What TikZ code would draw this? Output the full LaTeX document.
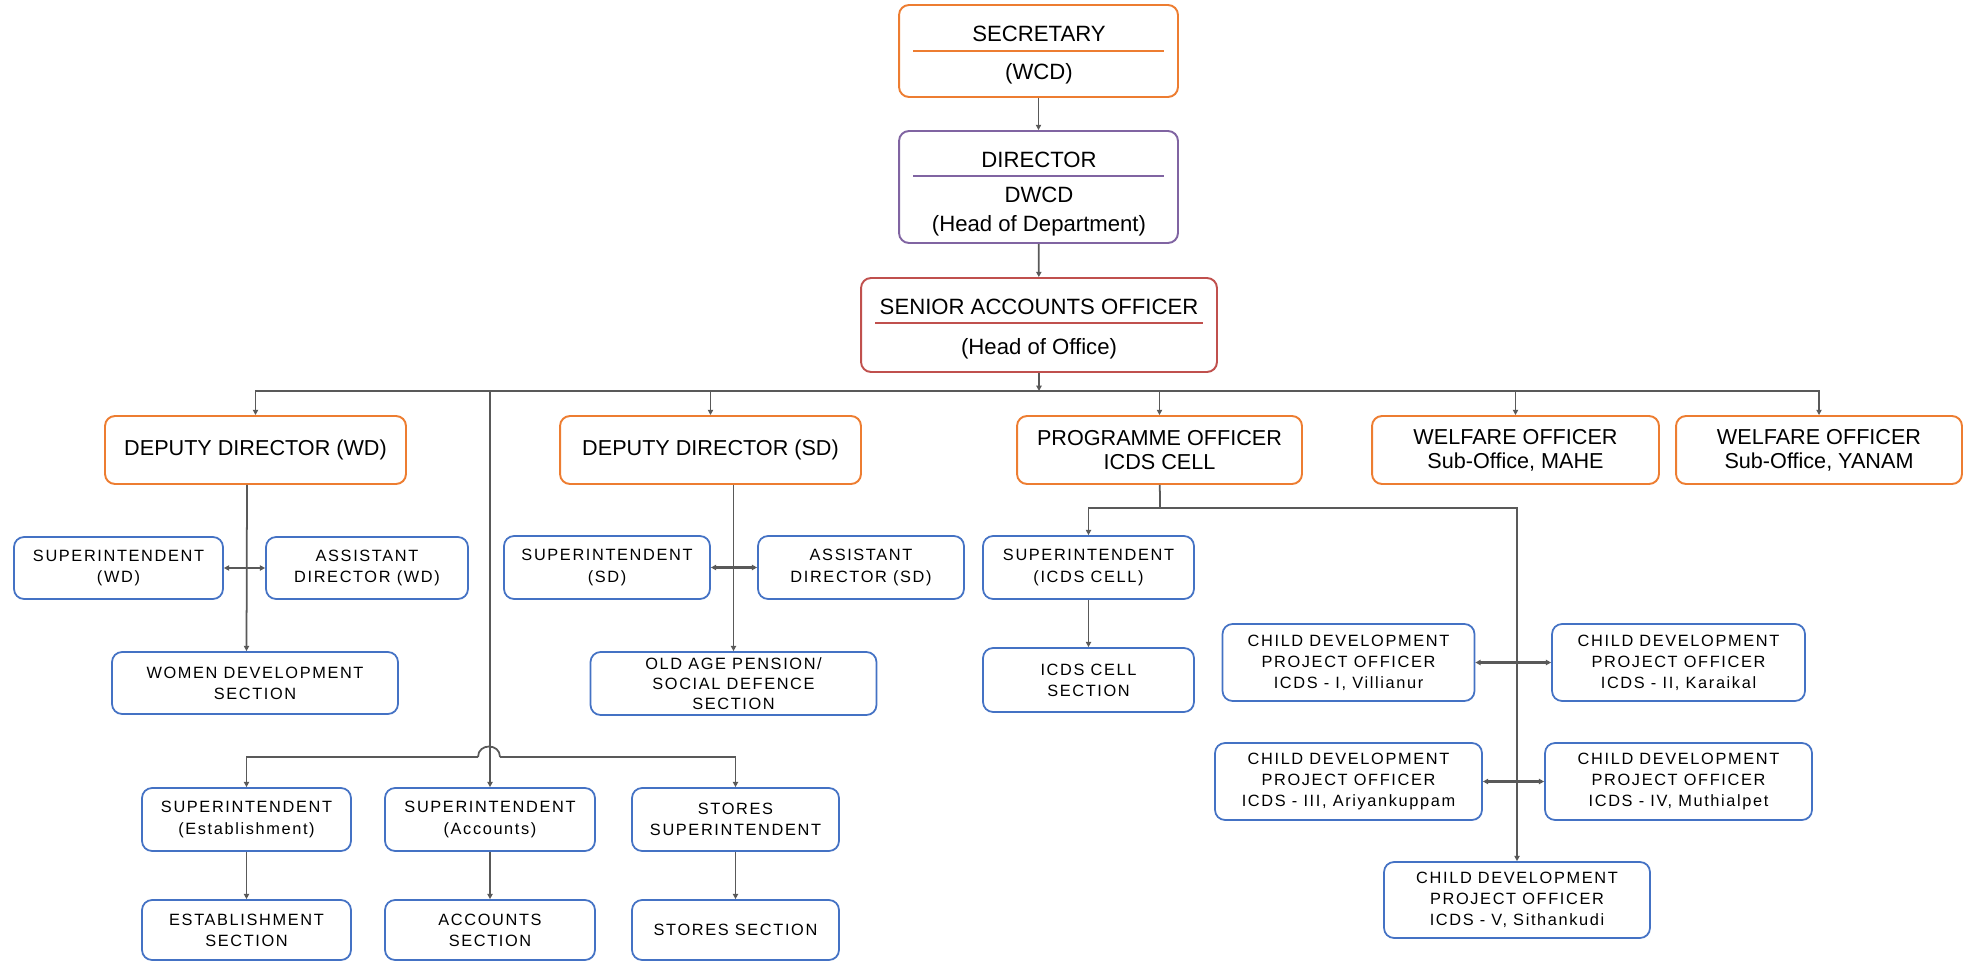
\documentclass[tikz,border=0pt]{standalone}
\usepackage{fontspec}
\setmainfont{Liberation Sans}
\newfontfamily\trackfont[LetterSpace=10]{Liberation Sans}
\usetikzlibrary{arrows.meta}
\definecolor{boxorange}{HTML}{ED7D31}
\definecolor{boxpurple}{HTML}{8064A2}
\definecolor{boxred}{HTML}{C0504D}
\definecolor{boxblue}{HTML}{4472C4}
\definecolor{linkgray}{HTML}{595959}

\begin{document}
\begin{tikzpicture}[x=0.02cm,y=-0.02cm,
  headbox/.style={draw,rounded corners=0.2cm,line width=1.1pt,inner sep=0pt},
  headtext/.style={anchor=base,inner sep=0pt,font=\fontsize{12.6}{14}\selectfont},
  rankbox/.style={draw=boxorange,rounded corners=0.2cm,line width=1.1pt,inner sep=0pt,
    align=center,minimum height=1.36cm,font=\fontsize{12.3}{13.6}\selectfont},
  unitbox/.style={draw=boxblue,rounded corners=0.2cm,line width=1pt,inner sep=0pt,
    align=center,font=\trackfont\fontsize{9.3}{12}\selectfont},
  link/.style={draw=linkgray,line width=1pt},
  arr/.style={link,-{Triangle[length=3pt,width=3pt]}},
  both/.style={draw=linkgray,line width=1.5pt,{Triangle[length=3pt,width=3pt]}-{Triangle[length=3pt,width=3pt]}}]
 \useasboundingbox (0,0) rectangle (1966,962);

 \node[headbox,draw=boxorange,minimum width=5.58cm,minimum height=1.84cm] (sec) at (1038.5,51) {};
 \node[headbox,draw=boxpurple,minimum width=5.58cm,minimum height=2.24cm] (dir) at (1038.5,187) {};
 \node[headbox,draw=boxred,minimum width=7.12cm,minimum height=1.88cm] (sao) at (1039,325) {};
 \node[headtext] (secA) at (1039,42) {SECRETARY};
 \node[headtext] (secB) at (1039,80) {(WCD)};
 \node[headtext] (dirA) at (1039,168) {DIRECTOR};
 \node[headtext] (dirB) at (1039,203) {DWCD};
 \node[headtext] (dirC) at (1039,232) {(Head of Department)};
 \node[headtext] (saoA) at (1039,315) {SENIOR ACCOUNTS OFFICER};
 \node[headtext] (saoB) at (1039,355) {(Head of Office)};
 \draw[boxorange,line width=1pt] (913,51) -- (1164,51);
 \draw[boxpurple,line width=1pt] (913,176) -- (1164,176);
 \draw[boxred,line width=1pt] (875,323) -- (1203,323);

 \node[rankbox,minimum width=6.02cm] (ddwd) at (255.5,450) {DEPUTY DIRECTOR (WD)};
 \node[rankbox,minimum width=6.02cm] (ddsd) at (710.5,450) {DEPUTY DIRECTOR (SD)};
 \node[rankbox,minimum width=5.70cm] (po) at (1159.5,450) {PROGRAMME OFFICER\\ICDS CELL};
 \node[rankbox,minimum width=5.74cm] (wom) at (1515.5,450) {WELFARE OFFICER\\Sub-Office, MAHE};
 \node[rankbox,minimum width=5.72cm] (woy) at (1819,450) {WELFARE OFFICER\\Sub-Office, YANAM};

 \node[unitbox,minimum width=4.18cm,minimum height=1.24cm] (suwd) at (118.5,568) {SUPERINTENDENT\\(WD)};
 \node[unitbox,minimum width=4.04cm,minimum height=1.24cm] (adwd) at (367,568) {ASSISTANT\\DIRECTOR (WD)};
 \node[unitbox,minimum width=5.72cm,minimum height=1.24cm] (wds) at (255,683) {WOMEN DEVELOPMENT\\SECTION};
 \node[unitbox,minimum width=4.12cm,minimum height=1.26cm] (susd) at (607,567.5) {SUPERINTENDENT\\(SD)};
 \node[unitbox,minimum width=4.12cm,minimum height=1.26cm] (adsd) at (861,567.5) {ASSISTANT\\DIRECTOR (SD)};
 \node[unitbox,minimum width=5.72cm,minimum height=1.26cm,font=\trackfont\fontsize{9.3}{11.4}\selectfont] (oap) at (733.5,683.5) {OLD AGE PENSION/\\SOCIAL DEFENCE\\SECTION};
 \node[unitbox,minimum width=4.22cm,minimum height=1.26cm] (suic) at (1088.5,567.5) {SUPERINTENDENT\\(ICDS CELL)};
 \node[unitbox,minimum width=4.22cm,minimum height=1.28cm] (icsec) at (1088.5,680) {ICDS CELL\\SECTION};

 \node[unitbox,minimum width=5.04cm,minimum height=1.54cm] (cdA) at (1348.5,662.5) {CHILD DEVELOPMENT\\PROJECT OFFICER\\ICDS - I, Villianur};
 \node[unitbox,minimum width=5.06cm,minimum height=1.54cm] (cdB) at (1678.5,662.5) {CHILD DEVELOPMENT\\PROJECT OFFICER\\ICDS - II, Karaikal};
 \node[unitbox,minimum width=5.34cm,minimum height=1.54cm] (cdC) at (1348.5,781.5) {CHILD DEVELOPMENT\\PROJECT OFFICER\\ICDS - III, Ariyankuppam};
 \node[unitbox,minimum width=5.34cm,minimum height=1.54cm] (cdD) at (1678.5,781.5) {CHILD DEVELOPMENT\\PROJECT OFFICER\\ICDS - IV, Muthialpet};
 \node[unitbox,minimum width=5.32cm,minimum height=1.52cm] (cdE) at (1517,900) {CHILD DEVELOPMENT\\PROJECT OFFICER\\ICDS - V, Sithankudi};

 \node[unitbox,minimum width=4.18cm,minimum height=1.26cm] (suest) at (246.5,819.5) {SUPERINTENDENT\\(Establishment)};
 \node[unitbox,minimum width=4.20cm,minimum height=1.26cm] (suacc) at (490,819.5) {SUPERINTENDENT\\(Accounts)};
 \node[unitbox,minimum width=4.14cm,minimum height=1.26cm] (sust) at (735.5,819.5) {STORES\\SUPERINTENDENT};
 \node[unitbox,minimum width=4.18cm,minimum height=1.20cm] (estsec) at (246.5,930) {ESTABLISHMENT\\SECTION};
 \node[unitbox,minimum width=4.20cm,minimum height=1.20cm] (accsec) at (490,930) {ACCOUNTS\\SECTION};
 \node[unitbox,minimum width=4.14cm,minimum height=1.20cm] (stsec) at (735.5,930) {STORES SECTION};

 \coordinate (bus) at (1039,391);
 \coordinate (icj) at (1160,508);
 \coordinate (hopl) at (478,757);
 \coordinate (hopr) at (500,757);

 \draw[arr] (sec) -- (dir);
 \draw[arr] (dir) -- (sao);
 \draw[arr] (sao) -- (bus);
 \draw[arr] (bus) -| (ddwd);
 \draw[arr] (bus) -| (ddsd);
 \draw[arr] (bus) -| (po);
 \draw[arr] (bus) -| (wom);
 \draw[arr] (bus) -| (woy);
 \draw[arr] (bus) -| (suacc);
 \draw[arr] ([xshift=-0.17cm]ddwd.south) -- ([xshift=-0.17cm]wds.north);
 \draw[both] (suwd) -- (adwd);
 \draw[arr] (oap |- ddsd.south) -- (oap);
 \draw[both] (susd) -- (adsd);
 \draw[link] (po) -- (icj);
 \draw[arr] (icj) -| (suic);
 \draw[arr] (icj) -| (cdE);
 \draw[arr] (suic) -- (icsec);
 \draw[both] (cdA) -- (cdB);
 \draw[both] (cdC) -- (cdD);
 \draw[arr] (hopl) -| (suest);
 \draw[arr] (hopr) -| (sust);
 \draw[link] (hopl) .. controls +(0,-14) and +(0,-14) .. (hopr);
 \draw[arr] (suest) -- (estsec);
 \draw[arr] (suacc) -- (accsec);
 \draw[arr] (sust) -- (stsec);
\end{tikzpicture}
\end{document}
